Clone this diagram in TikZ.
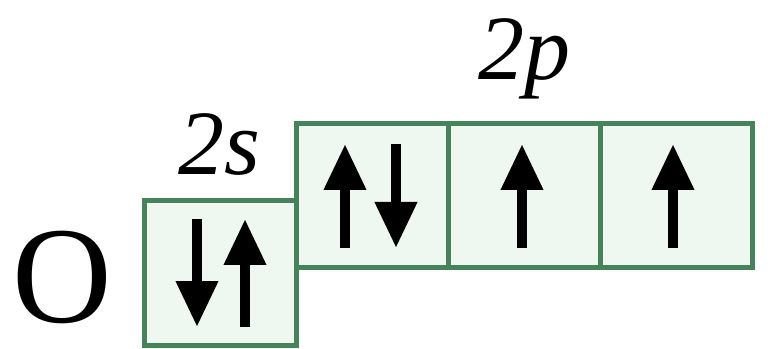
\documentclass[tikz,border=0pt]{standalone}
\usepackage{fontspec}
\setmainfont{Liberation Serif}
\usepackage{tikz}
\usetikzlibrary{arrows.meta}
\definecolor{orbline}{RGB}{70,130,90}
\definecolor{orbfill}{RGB}{238,247,240}

\begin{document}
\begin{tikzpicture}[x=1pt,y=1pt,
  orb/.style={draw=orbline,fill=orbfill,line width=5pt,minimum width=152pt,minimum height=144pt,inner sep=0pt},
  spin/.style={line width=10pt,-{Triangle[width=40pt,length=46pt]}},
  lbl/.style={font=\fontsize{92}{92}\selectfont\itshape,inner sep=0pt,anchor=base}]
\useasboundingbox (0,0) rectangle (773,348);
\node[orb] (s) at (220,75) {};
\node[orb] (px) at (372,152) {};
\node[orb] (py) at (524,152) {};
\node[orb] (pz) at (676,152) {};
\draw[spin] ([xshift=-23pt,yshift=54pt]s.center) -- ([xshift=-23pt,yshift=-54pt]s.center);
\draw[spin] ([xshift=25pt,yshift=-54pt]s.center) -- ([xshift=25pt,yshift=54pt]s.center);
\draw[spin] ([xshift=-27pt,yshift=-52pt]px.center) -- ([xshift=-27pt,yshift=52pt]px.center);
\draw[spin] ([xshift=24pt,yshift=52pt]px.center) -- ([xshift=24pt,yshift=-52pt]px.center);
\draw[spin] ([xshift=-2pt,yshift=-52pt]py.center) -- ([xshift=-2pt,yshift=52pt]py.center);
\draw[spin] ([xshift=-3pt,yshift=-52pt]pz.center) -- ([xshift=-3pt,yshift=52pt]pz.center);
\node[font=\fontsize{138}{138}\selectfont,inner sep=0pt] (atom) at (62,71) {O};
\node[lbl] (l2s) at (219,173) {2s};
\node[lbl] (l2p) at (524,268) {2p};
\end{tikzpicture}
\end{document}
